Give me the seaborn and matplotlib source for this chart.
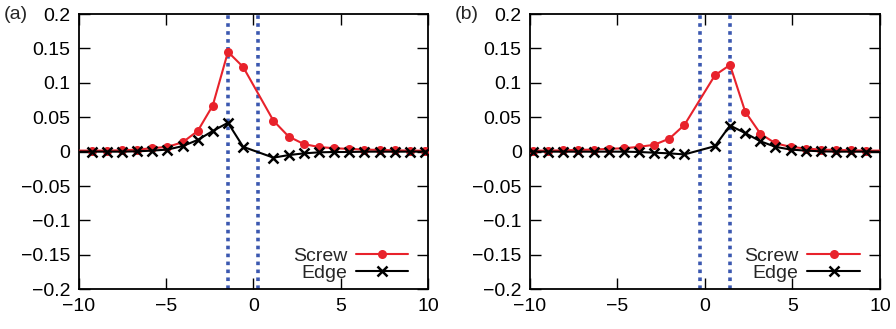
import matplotlib
matplotlib.use("Agg")
import matplotlib.pyplot as plt
import seaborn as sns
from matplotlib.ticker import FuncFormatter

sns.set_style("ticks")
plt.rcParams['font.family'] = ['Liberation Sans', 'DejaVu Sans']

RED = "#e8222b"
BLUE = "#3b58b0"

# panel (a)
x_a = [-10.13, -9.26, -8.39, -7.53, -6.66, -5.79, -4.93, -4.06, -3.19, -2.33, -1.46,
       -0.59, 1.14, 2.01, 2.88, 3.74, 4.61, 5.47, 6.34, 7.21, 8.07, 8.94, 9.81, 10.68]
screw_a = [0.0015, 0.0015, 0.0015, 0.002, 0.003, 0.005, 0.007, 0.0135, 0.030, 0.067, 0.145,
           0.123, 0.045, 0.022, 0.011, 0.0068, 0.005, 0.004, 0.003, 0.0025, 0.002, 0.0015, 0.0015, 0.0015]
edge_a = [0.0, 0.0, 0.0, 0.0, 0.0005, 0.0015, 0.003, 0.008, 0.017, 0.030, 0.042,
          0.007, -0.0087, -0.005, -0.0025, -0.001, -0.0005, -0.0005, 0.0, 0.0, 0.0, 0.0, 0.0, 0.0]
vlines_a = [-1.46, 0.24]

# panel (b)
x_b = [-10.70, -9.83, -8.96, -8.10, -7.23, -6.36, -5.50, -4.63, -3.76, -2.90, -2.03,
       -1.17, 0.57, 1.43, 2.30, 3.17, 4.03, 4.90, 5.77, 6.63, 7.50, 8.36, 9.23, 10.10]
screw_b = [0.0015, 0.0015, 0.0015, 0.002, 0.0025, 0.003, 0.004, 0.005, 0.007, 0.010, 0.019,
           0.039, 0.111, 0.126, 0.058, 0.026, 0.012, 0.007, 0.0045, 0.003, 0.0025, 0.002, 0.0015, 0.0015]
edge_b = [0.0, 0.0, 0.0, 0.0, 0.0, 0.0, 0.0, 0.0, -0.0005, -0.0015, -0.0025,
          -0.004, 0.008, 0.038, 0.027, 0.015, 0.007, 0.003, 0.0015, 0.0005, 0.0, 0.0, 0.0, 0.0]
vlines_b = [-0.27, 1.43]

panels = [("(a)", x_a, screw_a, edge_a, vlines_a, [0.0878, 0.1207, 0.3902, 0.8367]),
          ("(b)", x_b, screw_b, edge_b, vlines_b, [0.5915, 0.1207, 0.3906, 0.8367])]


def fmt(v, pos):
    s = "%g" % round(v, 3)
    return s.replace("-", "\u2212")


fig = plt.figure(figsize=(8.96, 3.29), dpi=100)
for tag, xs, screw, edge, vl, rect in panels:
    ax = fig.add_axes(rect)
    for v in vl:
        ax.axvline(v, color=BLUE, lw=2.6, ls=(0, (1, 1.2)), zorder=1)
    # first and last points lie outside the frame: keep the line, drop their markers
    sns.lineplot(x=xs, y=screw, ax=ax, color=RED, lw=1.5, marker="o", markersize=6.5,
                 markeredgewidth=0, markeredgecolor=RED, markevery=slice(1, -1),
                 label="Screw", zorder=3)
    sns.lineplot(x=xs, y=edge, ax=ax, color="black", lw=1.5, marker="x", markersize=7,
                 markeredgewidth=1.8, markeredgecolor="black", markevery=slice(1, -1),
                 label="Edge", zorder=4)
    ax.set_xlim(-10, 10)
    ax.set_ylim(-0.2, 0.2)
    ax.set_xticks([-10, -5, 0, 5, 10])
    ax.set_yticks([-0.2, -0.15, -0.1, -0.05, 0, 0.05, 0.1, 0.15, 0.2])
    ax.xaxis.set_major_formatter(FuncFormatter(fmt))
    ax.yaxis.set_major_formatter(FuncFormatter(fmt))
    ax.tick_params(direction="in", length=8, width=1, top=True, right=True,
                   labelsize=14, pad=6, colors="black")
    for sp in ax.spines.values():
        sp.set_visible(True)
        sp.set_linewidth(1.3)
        sp.set_color("black")
    ax.set_xlabel("")
    ax.set_ylabel("")
    ax.legend(loc="lower right", frameon=False, markerfirst=False, fontsize=14,
              handlelength=2.7, handletextpad=0.45, labelspacing=-0.05,
              borderaxespad=0.0, bbox_to_anchor=(0.965, 0.0))
    ax.text(-0.215, 1.0, tag, transform=ax.transAxes, fontsize=14,
            ha="left", va="center")

fig.savefig("out.png", dpi=100)
